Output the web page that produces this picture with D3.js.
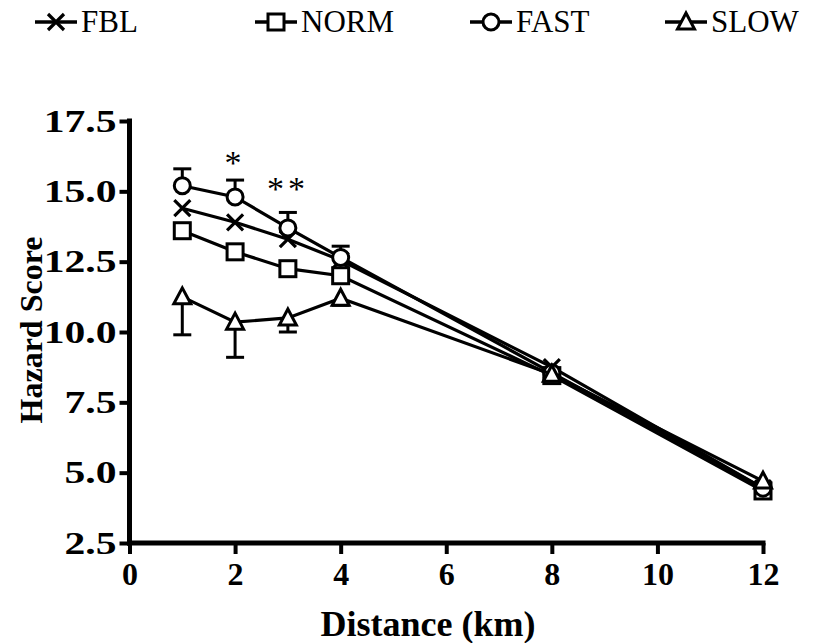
<!DOCTYPE html>
<html>
<head>
<meta charset="utf-8">
<script src="https://cdn.jsdelivr.net/npm/d3@7"></script>
<style>
  body { margin: 0; background: #fff; }
  svg { display: block; }
</style>
</head>
<body>
<svg id="chart" width="826" height="643"></svg>
<script>
// data
var distances = [1, 2, 3, 4, 8, 12];
var fbl  = [14.4, 13.9, 13.3, 12.55, 8.75, 4.45];
var norm = [13.6, 12.85, 12.25, 12.0, 8.45, 4.35];
var fast = [15.2, 14.8, 13.7, 12.65, 8.55, 4.45];
var slow = [11.25, 10.35, 10.5, 11.2, 8.5, 4.7];
var fastErr = [0.6, 0.6, 0.55, 0.4, 0.15, 0.15];
var slowErr = [1.35, 1.25, 0.5, 0.25, 0.15, 0.15];
var seriesNames = ["FBL", "NORM", "FAST", "SLOW"];
var xTicks = [0, 2, 4, 6, 8, 10, 12];
var yTicks = [2.5, 5.0, 7.5, 10.0, 12.5, 15.0, 17.5];
var starDist = [2, 3];
var starLabels = ["*", "**"];
var starLevel = [16.2, 15.25];

var FONT = "Liberation Serif";

var svg = d3.select("#chart");

var x = d3.scaleLinear().domain([0, 12]).range([129.5, 763]);
var y = d3.scaleLinear().domain([2.5, 17.5]).range([543, 121]);

var series = [
  { name: "FBL", values: fbl, shape: "x", err: null },
  { name: "NORM", values: norm, shape: "square", err: null },
  { name: "FAST", values: fast, shape: "circle", err: fastErr, dir: 1 },
  { name: "SLOW", values: slow, shape: "triangle", err: slowErr, dir: -1 }
];

// marker drawing
function drawMarker(g, shape, cx, cy) {
  if (shape == "x") {
    g.append("path")
      .attr("d", "M" + (cx - 8) + "," + (cy - 8) + "L" + (cx + 8) + "," + (cy + 8) +
                 "M" + (cx - 8) + "," + (cy + 8) + "L" + (cx + 8) + "," + (cy - 8))
      .attr("stroke", "#000").attr("stroke-width", 3.2).attr("fill", "none");
  } else if (shape == "square") {
    g.append("rect")
      .attr("x", cx - 8).attr("y", cy - 8).attr("width", 16).attr("height", 16)
      .attr("fill", "#fff").attr("stroke", "#000").attr("stroke-width", 3);
  } else if (shape == "circle") {
    g.append("circle")
      .attr("cx", cx).attr("cy", cy).attr("r", 8)
      .attr("fill", "#fff").attr("stroke", "#000").attr("stroke-width", 3);
  } else {
    g.append("path")
      .attr("d", "M" + cx + "," + (cy - 9) + "L" + (cx + 8.5) + "," + (cy + 7) + "L" + (cx - 8.5) + "," + (cy + 7) + "Z")
      .attr("fill", "#fff").attr("stroke", "#000").attr("stroke-width", 3).attr("stroke-linejoin", "miter");
  }
}

// axes
var xAxis = d3.axisBottom(x).tickValues(xTicks).tickSize(11).tickPadding(8)
  .tickFormat(d3.format("d"));
var yAxis = d3.axisLeft(y).tickValues(yTicks).tickSize(10).tickPadding(3)
  .tickFormat(d3.format(".1f"));

var gx = svg.append("g").attr("transform", "translate(0," + y(2.5) + ")").call(xAxis);
var gy = svg.append("g").attr("transform", "translate(" + x(0) + ",0)").call(yAxis);

[gx, gy].forEach(function (g) {
  g.attr("font-family", FONT);
  g.select(".domain").attr("stroke", "#000").attr("stroke-width", 5)
    .attr("stroke-linecap", "square");
  g.selectAll(".tick line").attr("stroke", "#000").attr("stroke-width", 4);
  g.selectAll(".tick text").attr("fill", "#000")
    .attr("font-family", FONT).attr("font-weight", "bold");
});
gx.select(".domain").attr("d", "M" + x(0) + ",0H" + x(12));
gy.select(".domain").attr("d", "M0," + y(17.5) + "V" + y(2.5));
gx.selectAll(".tick text").attr("font-size", 32);
gy.selectAll(".tick text").attr("font-size", 32)
  .attr("transform", "scale(1.3,1)")
  .attr("x", -13 / 1.3);

// axis titles
svg.append("text")
  .attr("x", 428).attr("y", 636)
  .attr("text-anchor", "middle")
  .attr("font-family", FONT)
  .attr("font-size", 36).attr("font-weight", "bold")
  .text("Distance (km)");
svg.append("text")
  .attr("transform", "translate(42,330) rotate(-90)")
  .attr("text-anchor", "middle")
  .attr("font-family", FONT)
  .attr("font-size", 32).attr("font-weight", "bold")
  .text("Hazard Score");

// lines
var line = d3.line()
  .x(function (d, i) { return x(distances[i]); })
  .y(function (d) { return y(d); });

series.forEach(function (s) {
  var g = svg.append("g");
  g.append("path")
    .attr("d", line(s.values))
    .attr("fill", "none").attr("stroke", "#000").attr("stroke-width", 3.2);
  if (s.err) {
    s.values.forEach(function (v, i) {
      var cx = x(distances[i]);
      var end = y(v + s.dir * s.err[i]);
      g.append("line").attr("x1", cx).attr("x2", cx).attr("y1", y(v)).attr("y2", end)
        .attr("stroke", "#000").attr("stroke-width", 3);
      g.append("line").attr("x1", cx - 9).attr("x2", cx + 9).attr("y1", end).attr("y2", end)
        .attr("stroke", "#000").attr("stroke-width", 3);
    });
  }
  s.values.forEach(function (v, i) {
    drawMarker(g, s.shape, x(distances[i]), y(v));
  });
});

// significance stars
starDist.forEach(function (d, i) {
  svg.append("text")
    .attr("x", x(d)).attr("y", y(starLevel[i]) + 16)
    .attr("text-anchor", "middle")
    .attr("font-family", FONT)
    .attr("font-size", 34)
    .attr("letter-spacing", 4)
    .text(starLabels[i]);
});

// legend
var legendX = [35, 255, 470, 665];
series.forEach(function (s, i) {
  var g = svg.append("g");
  var lx = legendX[i];
  g.append("line").attr("x1", lx).attr("x2", lx + 42).attr("y1", 22).attr("y2", 22)
    .attr("stroke", "#000").attr("stroke-width", 3.5);
  drawMarker(g, s.shape, lx + 21, 22);
  g.append("text").attr("x", lx + 46).attr("y", 32)
    .attr("font-family", FONT)
    .attr("font-size", 31)
    .text(seriesNames[i]);
});
</script>
</body>
</html>
